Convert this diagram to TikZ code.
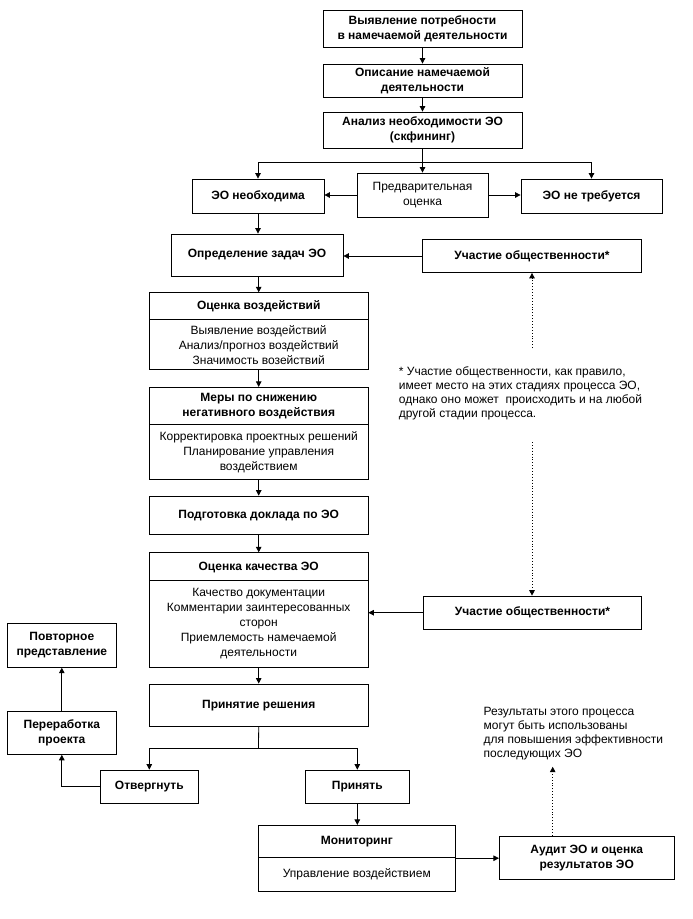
\documentclass[tikz,border=0pt]{standalone}
\usepackage{fontspec}
\setmainfont{Liberation Sans}
\usetikzlibrary{arrows.meta}
\newcommand\bfnt{\fontsize{12}{15}\selectfont\bfseries}
\newcommand\rfnt{\fontsize{12}{15}\selectfont}
\newcommand\nfnt{\fontsize{12}{14.2}\selectfont}
\begin{document}
\begin{tikzpicture}[x=1pt,y=-1pt,
  line width=0.8pt,
  box/.style={draw,line width=0.8pt,inner sep=0pt,align=center,font=\bfnt},
  lbl/.style={inner sep=0pt,align=center,font=\bfnt},
  txt/.style={inner sep=0pt,align=center,font=\rfnt},
  note/.style={inner sep=0pt,align=left,font=\nfnt},
  arr/.style={-{Triangle[length=5.5pt,width=5.5pt]}},
  dotl/.style={dotted,line width=0.9pt,-{Triangle[length=5.5pt,width=5.5pt]}}]
\useasboundingbox (0,0) rectangle (693,919);

% top chain
\node[box,minimum width=199pt,minimum height=37pt] (b1) at (422.5,28.5) {Выявление потребности\\в намечаемой деятельности};
\node[box,minimum width=199pt,minimum height=33pt] (b2) at (422.5,80.5) {Описание намечаемой\\деятельности};
\node[box,minimum width=199pt,minimum height=36pt] (b3) at (422.5,130) {Анализ необходимости ЭО\\(скфининг)};
\node[box,minimum width=132pt,minimum height=34pt] (neo) at (258,196) {ЭО необходима};
\node[box,font=\rfnt,minimum width=131pt,minimum height=44pt] (pre) at (422.5,195) {Предварительная\\оценка};
\node[box,minimum width=141pt,minimum height=34pt] (nt) at (591.5,196) {ЭО не требуется};
\coordinate (br) at (422.5,162);

\node[box,minimum width=172pt,minimum height=42pt] (opr) at (257,255) {Определение задач ЭО};
\node[box,minimum width=219pt,minimum height=33pt] (up1) at (532,256) {Участие общественности*};

% Оценка воздействий
\node[box,minimum width=218.5pt,minimum height=76.6pt] (ov) at (258.7,331) {};
\node[lbl] (ovt) at (258.7,306.5) {Оценка воздействий};
\node[txt] (ovb) at (258.7,345) {Выявление воздействий\\Анализ/прогноз воздействий\\Значимость возействий};
\draw (ov.west |- 0,319.3) -- (ov.east |- 0,319.3);

% Меры
\node[box,minimum width=218.5pt,minimum height=92pt] (mery) at (258.7,433.3) {};
\node[lbl] (meryt) at (258.7,406.5) {Меры по снижению\\негативного воздействия};
\node[txt] (meryb) at (258.7,452) {Корректировка проектных решений\\Планирование управления\\воздействием};
\draw (mery.west |- 0,424) -- (mery.east |- 0,424);

\node[box,minimum width=218.5pt,minimum height=38.3pt] (pod) at (258.7,515.2) {Подготовка доклада по ЭО};

% Оценка качества
\node[box,minimum width=218.5pt,minimum height=114.6pt] (ok) at (258.7,610) {};
\node[lbl] (okt) at (258.7,567) {Оценка качества ЭО};
\node[txt] (okb) at (258.7,623.5) {Качество документации\\Комментарии заинтересованных\\сторон\\Приемлемость намечаемой\\деятельности};
\draw (ok.west |- 0,580) -- (ok.east |- 0,580);

\node[box,minimum width=218.4pt,minimum height=33.3pt] (up2) at (532.5,612.7) {Участие общественности*};
\node[box,minimum width=109pt,minimum height=44pt] (povt) at (61.8,645.3) {Повторное\\представление};

\node[box,minimum width=218.5pt,minimum height=42.7pt] (pr) at (258.7,705.3) {Принятие решения};
\node[box,minimum width=109pt,minimum height=43.3pt] (per) at (61.8,732.7) {Переработка\\проекта};
\node[box,minimum width=98.7pt,minimum height=33.3pt] (otv) at (149.3,786.7) {Отвергнуть};
\node[box,minimum width=104pt,minimum height=33.3pt] (prin) at (357.3,786.7) {Принять};
\coordinate (dc) at (258.5,748.3);

% Мониторинг
\node[box,minimum width=197pt,minimum height=65.7pt] (mon) at (356.8,858.2) {};
\node[lbl] (mont) at (356.8,841.5) {Мониторинг};
\node[txt] (monb) at (356.8,874.5) {Управление воздействием};
\draw (mon.west |- 0,857.3) -- (mon.east |- 0,857.3);

\node[box,minimum width=174.7pt,minimum height=43.3pt] (aud) at (586.7,857.7) {Аудит ЭО и оценка\\результатов ЭО};

% notes
\node[note,anchor=north west] (nt1) at (398.5,366) {* Участие общественности, как правило,\\имеет место на этих стадиях процесса ЭО,\\однако оно может \ происходить и на любой\\другой стадии процесса.};
\node[note,anchor=north west] (res) at (483.3,706.5) {Результаты этого процесса\\могут быть использованы\\для повышения эффективности\\последующих ЭО};
\coordinate (d1) at (532,348);
\coordinate (d2) at (532,442);
\coordinate (rt) at (552.7,766.7);

% connectors
\draw[arr] (b1) -- (b2);
\draw[arr] (b2) -- (b3);
\draw (b3) -- (br);
\draw[arr] (br) -| (neo.north);
\draw[arr] (br) -| (nt.north);
\draw[arr] (br) -- (pre.north);
\draw[arr] (pre.west) -- (pre.west -| neo.east);
\draw[arr] (pre.east) -- (pre.east -| nt.west);
\draw[arr] (neo.south) -- (neo.south |- opr.north);
\draw[arr] (up1.west) -- (up1.west -| opr.east);
\draw[arr] (opr.south -| ov.north) -- (ov.north);
\draw[arr] (ov.south) -- (mery.north);
\draw[arr] (mery.south) -- (pod.north);
\draw[arr] (pod.south) -- (ok.north);
\draw[arr] (ok.south) -- (pr.north);
\draw[arr] (up2.west) -- (up2.west -| ok.east);
\draw[dotl] (d1) -- (up1.south -| d1);
\draw[dotl] (d2) -- (up2.north -| d2);
\draw (pr.south) -- (dc);
\draw[arr] (dc) -| (otv.north);
\draw[arr] (dc) -| (prin.north);
\draw[arr] (otv.west) -| (per.south);
\draw[arr] (per.north) -- (povt.south);
\draw[arr] (prin.south) -- (prin.south |- mon.north);
\draw[arr] (mon.east) -- (mon.east -| aud.west);
\draw[dotl] (aud.north -| rt) -- (rt);
\end{tikzpicture}
\end{document}
